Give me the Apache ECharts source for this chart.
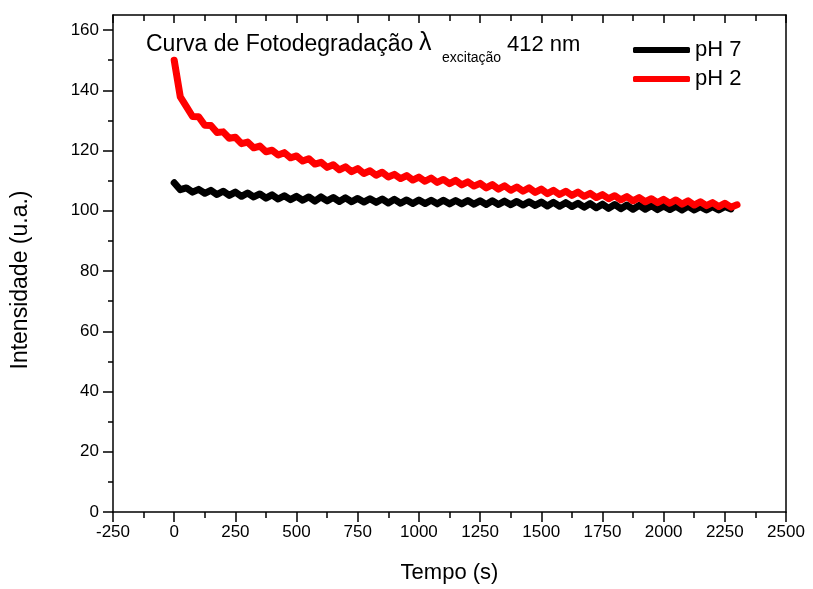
<!DOCTYPE html>
<html>
<head>
<meta charset="utf-8">
<script src="https://cdn.jsdelivr.net/npm/echarts@6/dist/echarts.min.js"></script>
<style>
  html, body { margin: 0; padding: 0; background: #fff; }
  #chart { width: 813px; height: 589px; }
</style>
</head>
<body>
<div id="chart"></div>
<script>
// eixos
var xTicks = [-250, 0, 250, 500, 750, 1000, 1250, 1500, 1750, 2000, 2250, 2500];
var yTicks = [0, 20, 40, 60, 80, 100, 120, 140, 160];
var yMinor = [10, 30, 50, 70, 90, 110, 130, 150];
var seriesNames = ['pH 7', 'pH 2'];

// passo de tempo das leituras (s)
var passo = 25;

// pH 7 (preto), uma leitura a cada 25 s a partir de 0
var intensPH7 = [
  109.3, 107.0, 107.6, 106.2, 107.1, 105.8, 106.8, 105.4, 106.5, 105.1,
  106.2, 104.8, 105.9, 104.6, 105.6, 104.2, 105.3, 103.9, 105.0, 103.7,
  104.8, 103.5, 104.6, 103.2, 104.6, 103.3, 104.4, 103.1, 104.3, 103.0,
  104.1, 102.9, 104.0, 102.8, 103.9, 102.6, 103.8, 102.5, 103.6, 102.4,
  103.6, 102.4, 103.5, 102.3, 103.5, 102.3, 103.4, 102.3, 103.4, 102.2,
  103.3, 102.1, 103.3, 102.1, 103.2, 102.0, 103.1, 101.9, 103.0, 101.8,
  102.9, 101.6, 102.8, 101.5, 102.7, 101.4, 102.5, 101.2, 102.4, 101.0,
  102.2, 100.8, 102.1, 100.7, 101.9, 100.5, 101.8, 100.5, 101.7, 100.4,
  101.6, 100.4, 101.5, 100.3, 101.5, 100.3, 101.4, 100.3, 101.4, 100.3,
  101.4, 100.6
];

// pH 2 (vermelho), uma leitura a cada 25 s a partir de 0
var intensPH2 = [
  150.0, 137.8, 134.6, 131.3, 131.2, 128.4, 128.3, 126.0, 126.2, 124.1,
  124.4, 122.3, 122.8, 120.9, 121.5, 119.6, 120.1, 118.5, 119.3, 117.6,
  118.2, 116.5, 117.3, 115.5, 116.1, 114.4, 115.3, 113.6, 114.6, 113.0,
  114.0, 112.4, 113.3, 111.8, 112.8, 111.2, 112.1, 110.7, 111.7, 110.2,
  111.2, 109.8, 110.9, 109.4, 110.4, 109.0, 110.1, 108.6, 109.6, 108.2,
  109.1, 107.6, 108.7, 107.2, 108.3, 106.8, 107.9, 106.5, 107.6, 106.1,
  107.2, 105.7, 106.8, 105.4, 106.5, 105.1, 106.2, 104.8, 105.8, 104.4,
  105.4, 104.0, 105.0, 103.6, 104.7, 103.3, 104.4, 103.0, 104.0, 102.7,
  103.8, 102.5, 103.6, 102.2, 103.3, 101.9, 103.0, 101.7, 102.7, 101.4,
  102.5, 101.2, 102.0
];

function pares(valores) {
  var out = [];
  valores.forEach(function (v, i) {
    out.push([i * passo, v]);
  });
  return out;
}

var fonte = 'Arial, "Liberation Sans", sans-serif';
var chart = echarts.init(document.getElementById('chart'), null, { renderer: 'canvas' });

var option = {
  backgroundColor: '#fff',
  animation: false,
  textStyle: { fontFamily: fonte, color: '#000' },
  grid: { left: 113, right: 27, top: 15, bottom: 76 },
  legend: {
    data: seriesNames,
    orient: 'vertical',
    left: 633,
    top: 39,
    padding: 0,
    itemWidth: 57,
    itemHeight: 6,
    itemGap: 7,
    icon: 'roundRect',
    textStyle: { fontSize: 22, color: '#000', fontFamily: fonte }
  },
  graphic: [
    { type: 'text', left: 146, top: 33, style: { text: 'Curva de Fotodegradação', fontSize: 23, fontFamily: fonte, fill: '#000' } },
    { type: 'text', left: 419, top: 31, style: { text: 'λ', fontSize: 25, fontFamily: fonte, fill: '#000' } },
    { type: 'text', left: 442, top: 51, style: { text: 'excitação', fontSize: 14, fontFamily: fonte, fill: '#000' } },
    { type: 'text', left: 507, top: 34, style: { text: '412 nm', fontSize: 22, fontFamily: fonte, fill: '#000' } },
    {
      type: 'text', x: 21, y: 280, rotation: Math.PI / 2,
      style: { text: 'Intensidade (u.a.)', fontSize: 23, fontFamily: fonte, fill: '#000', align: 'center', verticalAlign: 'middle' }
    }
  ],
  xAxis: [
    {
      type: 'value', min: -250, max: 2500, interval: 250,
      name: 'Tempo (s)', nameLocation: 'middle', nameGap: 50,
      nameTextStyle: { fontSize: 22, color: '#000', fontFamily: fonte },
      axisLine: { show: true, onZero: false, lineStyle: { color: '#000', width: 1.5 } },
      axisTick: { show: true, inside: false, length: 10, lineStyle: { color: '#000', width: 1.5 } },
      minorTick: { show: true, splitNumber: 2, length: 6, lineStyle: { color: '#000', width: 1.5 } },
      axisLabel: { fontSize: 17, color: '#000', margin: 12, fontFamily: fonte, formatter: function (v) { return String(v); } },
      splitLine: { show: false }
    },
    {
      type: 'value', position: 'top', min: -250, max: 2500, interval: 250,
      axisLine: { show: true, onZero: false, lineStyle: { color: '#000', width: 1.5 } },
      axisTick: { show: true, inside: true, length: 8, lineStyle: { color: '#000', width: 1.5 } },
      minorTick: { show: true, splitNumber: 2, length: 6, lineStyle: { color: '#000', width: 1.5 } },
      axisLabel: { show: false },
      splitLine: { show: false }
    }
  ],
  yAxis: [
    {
      type: 'value', min: 0, max: 165, interval: 20,
      axisLine: { show: true, onZero: false, lineStyle: { color: '#000', width: 1.5 } },
      axisTick: { show: true, inside: false, length: 10, customValues: yTicks, lineStyle: { color: '#000', width: 1.5 } },
      axisLabel: { fontSize: 17, color: '#000', margin: 14, customValues: yTicks, fontFamily: fonte },
      splitLine: { show: false }
    },
    {
      type: 'value', position: 'left', min: 0, max: 165, interval: 10,
      axisLine: { show: false, onZero: false },
      axisTick: { show: true, inside: false, length: 5, customValues: yMinor, lineStyle: { color: '#000', width: 1.5 } },
      axisLabel: { show: false },
      splitLine: { show: false }
    },
    {
      type: 'value', position: 'right', min: 0, max: 165,
      axisLine: { show: true, onZero: false, lineStyle: { color: '#000', width: 1.5 } },
      axisTick: { show: false },
      axisLabel: { show: false },
      splitLine: { show: false }
    }
  ],
  series: [
    {
      name: seriesNames[0], type: 'line', data: pares(intensPH7),
      showSymbol: false, symbol: 'none', color: '#000',
      lineStyle: { color: '#000', width: 7, join: 'round', cap: 'round' }
    },
    {
      name: seriesNames[1], type: 'line', data: pares(intensPH2),
      showSymbol: false, symbol: 'none', color: '#ff0000',
      lineStyle: { color: '#ff0000', width: 7, join: 'round', cap: 'round' }
    }
  ]
};

chart.setOption(option);
</script>
</body>
</html>
